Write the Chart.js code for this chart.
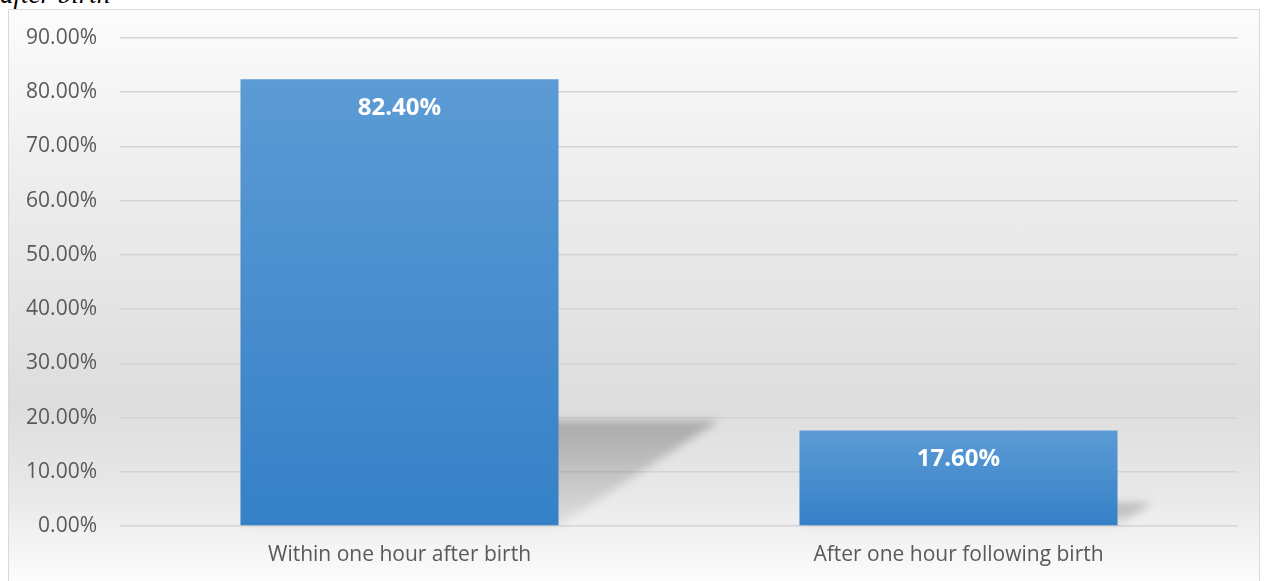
<!DOCTYPE html>
<html>
<head>
<meta charset="utf-8">
<script src="https://cdn.jsdelivr.net/npm/chart.js@4.4.1/dist/chart.umd.min.js"></script>
<style>
  body { margin: 0; background: #fff; width: 1266px; height: 581px; overflow: hidden; position: relative; }
  #cap { position: absolute; left: 0; top: -21px; font: italic 27px "Liberation Serif", serif; color: #000; }
  #box {
    position: absolute; left: 8px; top: 9px; width: 1250px; height: 580px;
    border: 1px solid #d9d9d9;
    background: linear-gradient(to bottom, #fcfcfc 0%, #eeeeee 28%, #dddddd 68%, #e9e9e9 84%, #fefefe 100%);
  }
  #myChart { display: block; }
</style>
</head>
<body>
<div id="cap">after birth</div>
<div id="box"><canvas id="myChart" width="1250" height="572"></canvas></div>
<script>
const categories = ["Within one hour after birth", "After one hour following birth"];
const values = [82.4, 17.6];
const tickMax = 90;
const tickStep = 10;

// skewed floor shadow behind each bar
const shadowPlugin = {
  id: "shadow",
  beforeDatasetsDraw(chart) {
    const c = chart.ctx;
    chart.getDatasetMeta(0).data.forEach((bar) => {
      const left = bar.x - bar.width / 2;
      const right = bar.x + bar.width / 2;
      const h = bar.base - bar.y;
      const dx = h * 0.36;
      const dy = h * 0.235;
      c.save();
      c.filter = "blur(4px)";
      const g = c.createLinearGradient(0, bar.base - dy, 0, bar.base);
      g.addColorStop(0, "rgba(0,0,0,0.24)");
      g.addColorStop(1, "rgba(0,0,0,0.06)");
      c.fillStyle = g;
      c.beginPath();
      c.moveTo(left, bar.base);
      c.lineTo(right, bar.base);
      c.lineTo(right + dx, bar.base - dy);
      c.lineTo(left + dx, bar.base - dy);
      c.closePath();
      c.fill();
      c.restore();
    });
  },
};

const labelPlugin = {
  id: "barLabels",
  afterDatasetsDraw(chart) {
    const c = chart.ctx;
    c.save();
    c.font = "bold 24px 'Open Sans'";
    c.fillStyle = "#ffffff";
    c.textAlign = "center";
    c.textBaseline = "middle";
    chart.getDatasetMeta(0).data.forEach((bar, i) => {
      c.fillText(values[i].toFixed(2) + "%", bar.x, bar.y + 29);
    });
    c.restore();
  },
};

const data = {
  labels: categories,
  datasets: [
    {
      data: values,
      backgroundColor: (ctx) => {
        const chart = ctx.chart;
        const y = chart.scales.y;
        if (!y || ctx.dataIndex === undefined) return "#4a8fd0";
        const top = y.getPixelForValue(values[ctx.dataIndex]);
        const bottom = y.getPixelForValue(0);
        if (!isFinite(top) || !isFinite(bottom) || top === bottom) return "#4a8fd0";
        const g = chart.ctx.createLinearGradient(0, top, 0, bottom);
        g.addColorStop(0, "#5c9bd5");
        g.addColorStop(1, "#3580c7");
        return g;
      },
      borderWidth: 0,
      categoryPercentage: 1,
      barPercentage: 0.569,
    },
  ],
};

const config = {
  type: "bar",
  data: data,
  plugins: [shadowPlugin, labelPlugin],
  options: {
    responsive: false,
    animation: false,
    layout: { padding: { top: 28, right: 21, left: 0, bottom: 0 } },
    scales: {
      y: {
        min: 0,
        max: tickMax,
        border: { display: false },
        grid: { color: "#d4d4d4", lineWidth: 1.5, drawTicks: false },
        ticks: {
          stepSize: tickStep,
          padding: 23,
          color: "#595959",
          font: { family: "'Open Sans'", size: 21 },
          callback: (v) => v.toFixed(2) + "%",
        },
        afterFit: (s) => {
          s.width = 111;
          s.paddingTop = 0;
          s.paddingBottom = 0;
        },
      },
      x: {
        border: { display: false },
        grid: { display: false, drawTicks: false },
        ticks: {
          padding: 16,
          color: "#595959",
          font: { family: "'Open Sans'", size: 21 },
        },
        afterFit: (s) => { s.height = 56; },
      },
    },
    plugins: {
      legend: { display: false },
      tooltip: { enabled: false },
    },
  },
};

const myChart = new Chart(document.getElementById("myChart"), config);
</script>
</body>
</html>
